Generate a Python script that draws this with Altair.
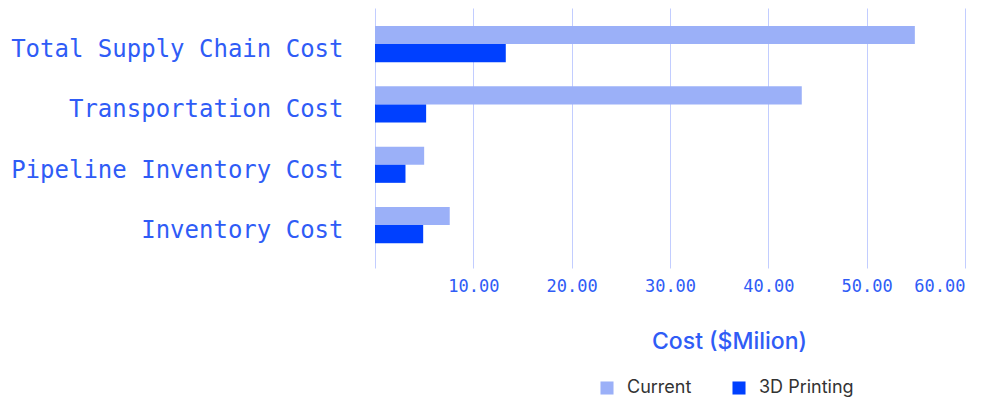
import altair as alt
import pandas as pd

categories = ["Total Supply Chain Cost", "Transportation Cost", "Pipeline Inventory Cost", "Inventory Cost"]
series = ["Current", "3D Printing"]
current = [54.9, 43.4, 5.0, 7.6]
printing3d = [13.3, 5.2, 3.1, 4.9]
colors = ["#9bb0f8", "#0040ff"]

rows = []
for c, v1, v2 in zip(categories, current, printing3d):
    rows.append({"category": c, "series": "Current", "value": v1})
    rows.append({"category": c, "series": "3D Printing", "value": v2})
df = pd.DataFrame(rows)

blue = "#2f5cf6"

chart = alt.Chart(df).mark_bar().encode(
    y=alt.Y("category:N", sort=categories,
            scale=alt.Scale(paddingInner=0.4, paddingOuter=0.355, align=0.42),
            axis=alt.Axis(title=None, labelFont="DejaVu Sans Mono", labelFontSize=24,
                          labelColor=blue, labelPadding=32, ticks=False, domain=False,
                          grid=False, labelLimit=400, labelOffset=6)),
    yOffset=alt.YOffset("series:N", sort=series),
    x=alt.X("value:Q", scale=alt.Scale(domain=[0, 60]),
            axis=alt.Axis(title="Cost ($Milion)", values=[0, 10, 20, 30, 40, 50, 60],
                          format=".2f", labelExpr="datum.value == 0 ? '' : datum.label",
                          labelFont="DejaVu Sans Mono", labelFontSize=17, labelColor=blue,
                          labelPadding=10, ticks=False, domain=False,
                          gridColor="#c2cdff", gridWidth=1,
                          titleFont="Inter", titleFontSize=23, titleFontWeight=500,
                          titleColor=blue, titlePadding=36, titleX=354, titleAlign="center")),
    color=alt.Color("series:N", sort=series,
                    scale=alt.Scale(domain=series, range=colors),
                    legend=alt.Legend(title=None, orient="none", direction="horizontal",
                                      legendX=223, legendY=371, symbolType="square",
                                      symbolSize=170, symbolStrokeWidth=0,
                                      labelFont="Inter", labelFontSize=18,
                                      labelColor="#333333", columnPadding=38,
                                      labelOffset=11)),
).properties(
    width=590, height=260,
    padding={"top": 0, "left": 2, "right": 5, "bottom": 5},
).configure_view(stroke=None)

chart.save("out.html", embed_options={"renderer": "svg", "actions": False})
